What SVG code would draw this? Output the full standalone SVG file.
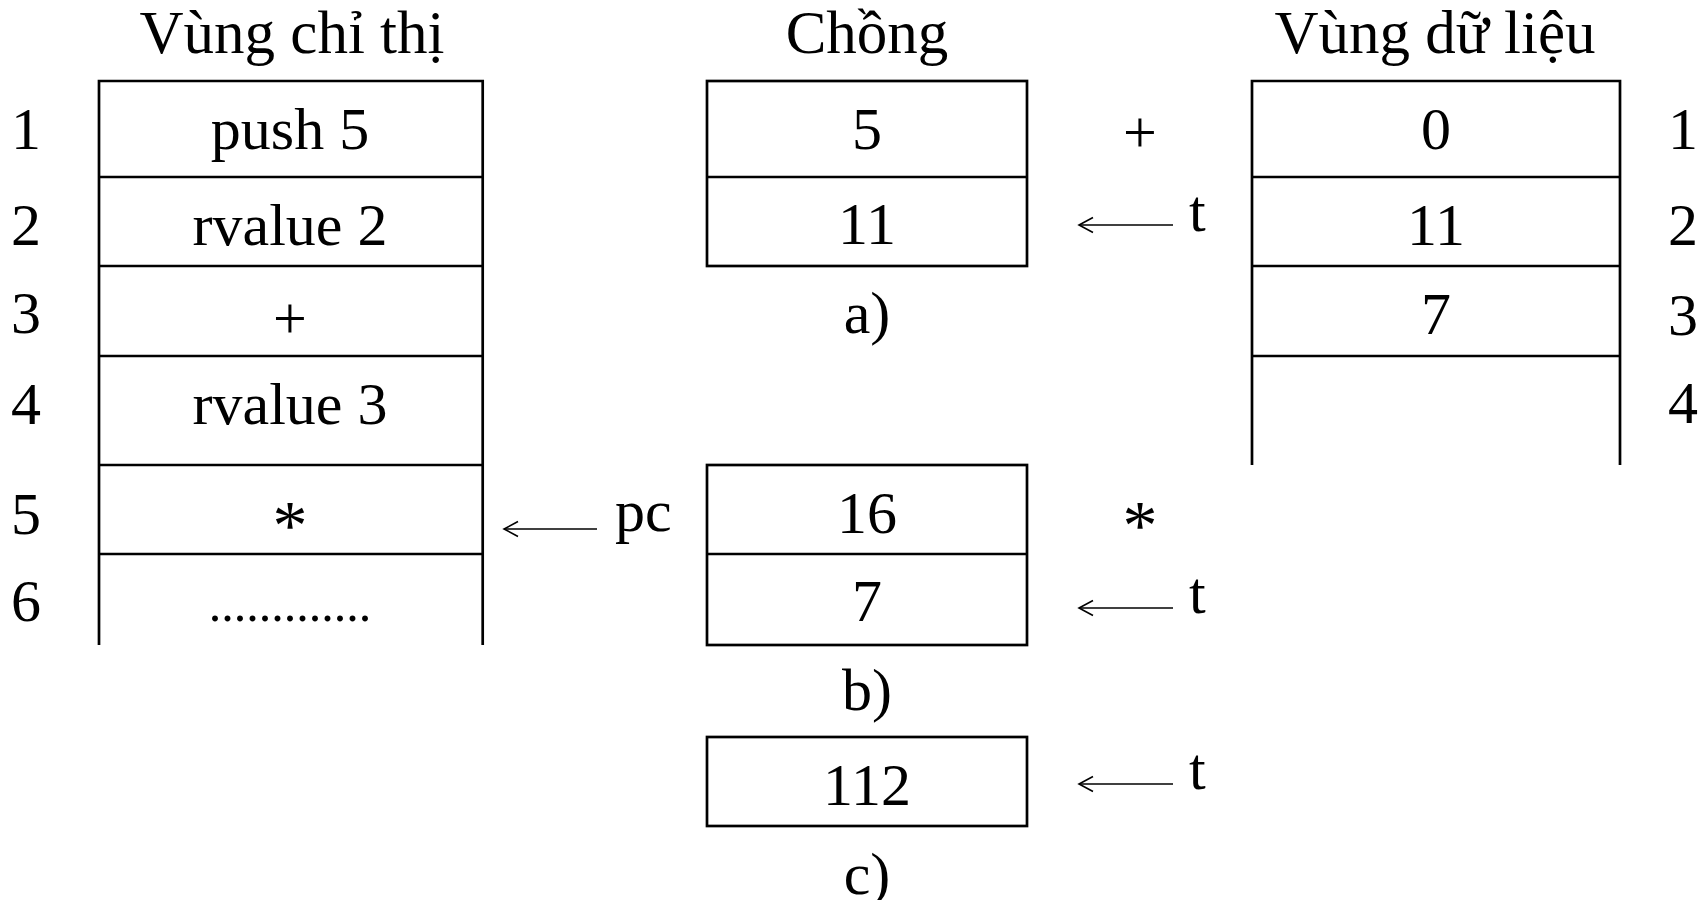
<svg xmlns="http://www.w3.org/2000/svg" width="1708" height="900" viewBox="0 0 1708 900">
  <style>
    text { font-family: "Liberation Serif", "Times New Roman", serif; font-size: 60px; fill: #000; }
    .c { text-anchor: middle; }
    .head { font-size: 61px; }
    .star { font-size: 70px; }
    .cell { fill: #fff; stroke: #000; stroke-width: 2.7; }
    .rule { stroke: #000; stroke-width: 2.7; fill: none; }
    .ptr { stroke: #000; stroke-width: 1.6; fill: none; }
    .dots { font-size: 50px; }
  </style>
  <defs>
    <marker id="head" markerUnits="userSpaceOnUse" markerWidth="20" markerHeight="20" refX="15" refY="10" orient="auto">
      <path d="M1,2.5 L15,10 L1,17.5" fill="none" stroke="#000" stroke-width="1.6"/>
    </marker>
  </defs>
  <rect width="1708" height="900" fill="#fff"/>

  <!-- column headings -->
  <g id="headings">
    <text class="c head" x="292" y="53">Vùng chỉ thị</text>
    <text class="c head" x="867" y="53">Chồng</text>
    <text class="c head" x="1435" y="53">Vùng dữ liệu</text>
  </g>

  <!-- instruction area -->
  <g id="code">
    <path class="rule" d="M99,645 V81 H482.7 V645 M99,177 H482.7 M99,266 H482.7 M99,356 H482.7 M99,465 H482.7 M99,554 H482.7"/>
    <text class="c" x="26" y="149">1</text>
    <text class="c" x="26" y="245">2</text>
    <text class="c" x="26" y="333">3</text>
    <text class="c" x="26" y="424">4</text>
    <text class="c" x="26" y="534">5</text>
    <text class="c" x="26" y="621">6</text>
    <text class="c" x="290" y="149">push 5</text>
    <text class="c" x="290" y="245">rvalue 2</text>
    <text class="c" x="290" y="338">+</text>
    <text class="c" x="290" y="424">rvalue 3</text>
    <text class="c star" x="290" y="549">*</text>
    <text class="c dots" x="290" y="621">.............</text>
  </g>

  <!-- stack state a) -->
  <g id="stack-a">
    <rect class="cell" x="707" y="81" width="320" height="185"/>
    <line class="rule" x1="707" y1="177" x2="1027" y2="177"/>
    <text class="c" x="867" y="149">5</text>
    <text class="c" x="867" y="244">11</text>
    <text class="c" x="867" y="333">a)</text>
    <text class="c" x="1140" y="152">+</text>
  </g>

  <!-- stack state b) -->
  <g id="stack-b">
    <rect class="cell" x="707" y="465" width="320" height="180"/>
    <line class="rule" x1="707" y1="554" x2="1027" y2="554"/>
    <text class="c" x="867" y="533">16</text>
    <text class="c" x="867" y="621">7</text>
    <text class="c" x="867" y="710">b)</text>
    <text class="c star" x="1140" y="549">*</text>
  </g>

  <!-- stack state c) -->
  <g id="stack-c">
    <rect class="cell" x="707" y="737" width="320" height="89"/>
    <text class="c" x="867" y="805">112</text>
    <text class="c" x="867" y="894">c)</text>
  </g>

  <!-- data area -->
  <g id="data">
    <path class="rule" d="M1252,465 V81 H1620 V465 M1252,177 H1620 M1252,266 H1620 M1252,356 H1620"/>
    <text class="c" x="1436" y="149">0</text>
    <text class="c" x="1436" y="245">11</text>
    <text class="c" x="1436" y="334">7</text>
    <text class="c" x="1683" y="149">1</text>
    <text class="c" x="1683" y="245">2</text>
    <text class="c" x="1683" y="335">3</text>
    <text class="c" x="1683" y="423">4</text>
  </g>

  <!-- pointer labels -->
  <g id="labels">
    <text x="615" y="531">pc</text>
    <text x="1189" y="231">t</text>
    <text x="1189" y="613">t</text>
    <text x="1189" y="789">t</text>
  </g>

  <!-- pointer arrows -->
  <g id="connectors">
    <line class="ptr" x1="597" y1="529" x2="504" y2="529" marker-end="url(#head)"/>
    <line class="ptr" x1="1173" y1="225" x2="1079" y2="225" marker-end="url(#head)"/>
    <line class="ptr" x1="1173" y1="608" x2="1079" y2="608" marker-end="url(#head)"/>
    <line class="ptr" x1="1173" y1="784" x2="1079" y2="784" marker-end="url(#head)"/>
  </g>
</svg>
